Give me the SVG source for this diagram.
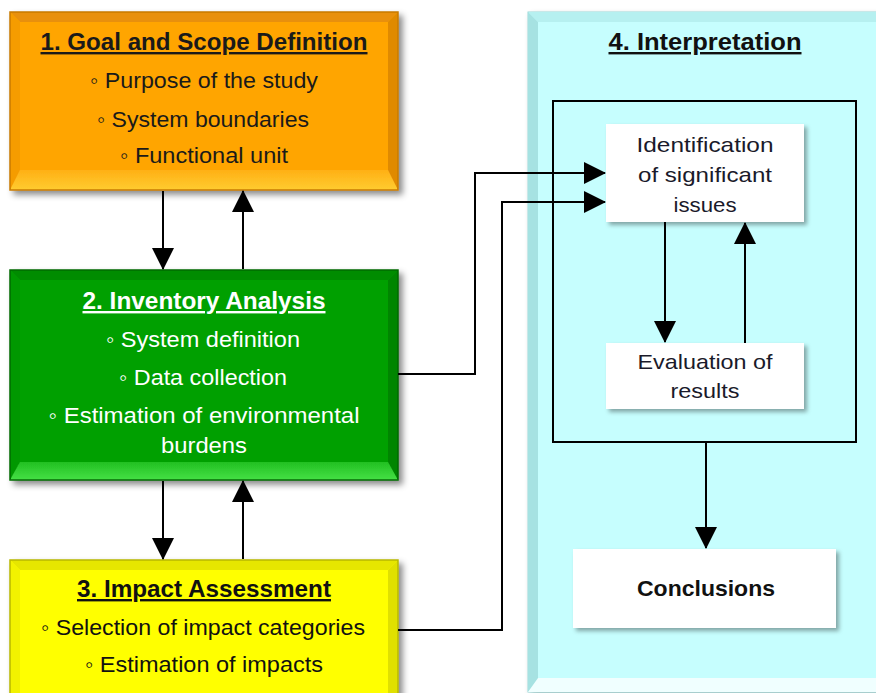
<svg xmlns="http://www.w3.org/2000/svg" width="876" height="693" viewBox="0 0 876 693">
<defs>
<style>
.t{font-family:"Liberation Sans",Arial,"DejaVu Sans",sans-serif;text-anchor:middle}
.h{font-weight:bold;font-size:24px;text-decoration:underline}
.b{font-size:22px}
.s{font-size:21px}
.c{stroke:#000;stroke-width:2;fill:none}
.ar{marker-end:url(#ah)}
.wb{fill:#fff}
</style>
<marker id="ah" markerUnits="userSpaceOnUse" markerWidth="22" markerHeight="22" refX="21" refY="11" orient="auto">
<path d="M0,0 L22,11 L0,22 Z" fill="#000"/>
</marker>
<filter id="sh" x="-5%" y="-5%" width="115%" height="115%">
<feDropShadow dx="4" dy="4" stdDeviation="3" flood-color="#000" flood-opacity="0.45"/>
</filter>
<filter id="sh2" x="-5%" y="-5%" width="115%" height="120%">
<feDropShadow dx="3" dy="3" stdDeviation="2" flood-color="#000" flood-opacity="0.35"/>
</filter>
<linearGradient id="ob" x1="0" y1="0" x2="0" y2="1">
<stop offset="0" stop-color="#FFB015"/><stop offset="1" stop-color="#FFCC30"/>
</linearGradient>
<linearGradient id="gb" x1="0" y1="0" x2="0" y2="1">
<stop offset="0" stop-color="#22C022"/><stop offset="1" stop-color="#45E045"/>
</linearGradient>
</defs>
<rect width="876" height="693" fill="#fff"/>

<g id="interpretation">
<rect x="528" y="12" width="362" height="680" fill="#C6FEFE" stroke="#9AD8D8" stroke-width="1" filter="url(#sh)"/>
<polygon points="528,12 890,12 880,22 538,22" fill="#B6F0F0"/>
<polygon points="528,12 538,22 538,682 528,692" fill="#A6E2E2"/>
<polygon points="528,692 890,692 880,678 538,678" fill="#F0FFFF"/>
<text class="t h" x="705" y="50" fill="#111" textLength="193" lengthAdjust="spacingAndGlyphs">4. Interpretation</text>
<rect x="553" y="101" width="303" height="341" fill="none" stroke="#000" stroke-width="2"/>
</g>

<g id="goal">
<g filter="url(#sh)">
<rect x="10" y="12" width="388" height="178" fill="#FFA500"/>
<polygon points="10,12 398,12 388,22 20,22" fill="#E8900A"/>
<polygon points="10,12 20,22 20,180 10,190" fill="#F59C05"/>
<polygon points="398,12 388,22 388,180 398,190" fill="#E08A05"/>
<polygon points="10,190 398,190 388,170 20,170" fill="url(#ob)"/>
<rect x="10" y="12" width="388" height="178" fill="none" stroke="#C87A00" stroke-width="1.5"/>
</g>
<text class="t h" x="204" y="50" fill="#1A1A1A" textLength="327" lengthAdjust="spacingAndGlyphs">1. Goal and Scope Definition</text>
<text class="t b" x="204" y="88" fill="#1A1A1A" textLength="228" lengthAdjust="spacingAndGlyphs">◦ Purpose of the study</text>
<text class="t b" x="203" y="127" fill="#1A1A1A" textLength="212" lengthAdjust="spacingAndGlyphs">◦ System boundaries</text>
<text class="t b" x="204" y="163" fill="#1A1A1A" textLength="168" lengthAdjust="spacingAndGlyphs">◦ Functional unit</text>
</g>

<g id="inventory">
<g filter="url(#sh)">
<rect x="10" y="270" width="388" height="210" fill="#06A006"/>
<polygon points="10,270 398,270 388,280 20,280" fill="#048C04"/>
<polygon points="10,270 20,280 20,470 10,480" fill="#059805"/>
<polygon points="398,270 388,280 388,470 398,480" fill="#038503"/>
<polygon points="10,480 398,480 388,462 20,462" fill="url(#gb)"/>
<rect x="10" y="270" width="388" height="210" fill="none" stroke="#056A05" stroke-width="1.5"/>
</g>
<text class="t h" x="204" y="309" fill="#fff" textLength="243" lengthAdjust="spacingAndGlyphs">2. Inventory Analysis</text>
<text class="t b" x="203" y="347" fill="#fff" textLength="194" lengthAdjust="spacingAndGlyphs">◦ System definition</text>
<text class="t b" x="203" y="385" fill="#fff" textLength="168" lengthAdjust="spacingAndGlyphs">◦ Data collection</text>
<text class="t b" x="204" y="423" fill="#fff" textLength="311" lengthAdjust="spacingAndGlyphs">◦ Estimation of environmental</text>
<text class="t b" x="204" y="453" fill="#fff" textLength="86" lengthAdjust="spacingAndGlyphs">burdens</text>
</g>

<g id="impact">
<g filter="url(#sh)">
<rect x="10" y="560" width="388" height="145" fill="#FFFF00"/>
<polygon points="10,560 398,560 388,570 20,570" fill="#E6E600"/>
<polygon points="10,560 20,570 20,705 10,705" fill="#F2F200"/>
<polygon points="398,560 388,570 388,705 398,705" fill="#E0E000"/>
<rect x="10" y="560" width="388" height="145" fill="none" stroke="#B8B800" stroke-width="1.5"/>
</g>
<text class="t h" x="204" y="597" fill="#111" textLength="254" lengthAdjust="spacingAndGlyphs">3. Impact Assessment</text>
<text class="t b" x="203" y="635" fill="#111" textLength="324" lengthAdjust="spacingAndGlyphs">◦ Selection of impact categories</text>
<text class="t b" x="204" y="672" fill="#111" textLength="238" lengthAdjust="spacingAndGlyphs">◦ Estimation of impacts</text>
</g>

<g id="identification">
<rect class="wb" x="606" y="124" width="198" height="98" filter="url(#sh2)"/>
<text class="t s" x="705" y="152" fill="#1A1A2A" textLength="137" lengthAdjust="spacingAndGlyphs">Identification</text>
<text class="t s" x="705" y="182" fill="#1A1A2A" textLength="134" lengthAdjust="spacingAndGlyphs">of significant</text>
<text class="t s" x="705" y="212" fill="#1A1A2A" textLength="63" lengthAdjust="spacingAndGlyphs">issues</text>
</g>

<g id="evaluation">
<rect class="wb" x="606" y="343" width="198" height="66" filter="url(#sh2)"/>
<text class="t s" x="705" y="369" fill="#1A1A2A" textLength="135" lengthAdjust="spacingAndGlyphs">Evaluation of</text>
<text class="t s" x="705" y="398" fill="#1A1A2A" textLength="69" lengthAdjust="spacingAndGlyphs">results</text>
</g>

<g id="conclusions">
<rect class="wb" x="573" y="549" width="263" height="79" filter="url(#sh2)"/>
<text class="t" x="706" y="596" font-size="22" font-weight="bold" fill="#111" textLength="138" lengthAdjust="spacingAndGlyphs">Conclusions</text>
</g>

<g id="connectors">
<line class="c ar" x1="163" y1="191" x2="163" y2="269"/>
<line class="c ar" x1="243" y1="269" x2="243" y2="191"/>
<line class="c ar" x1="163" y1="481" x2="163" y2="559"/>
<line class="c ar" x1="243" y1="559" x2="243" y2="481"/>
<polyline class="c ar" points="398,374 475,374 475,173 605,173"/>
<polyline class="c ar" points="398,630 502,630 502,202 605,202"/>
<line class="c ar" x1="665" y1="222" x2="665" y2="342"/>
<line class="c ar" x1="745" y1="343" x2="745" y2="223"/>
<line class="c ar" x1="706" y1="442" x2="706" y2="548"/>
</g>
</svg>
